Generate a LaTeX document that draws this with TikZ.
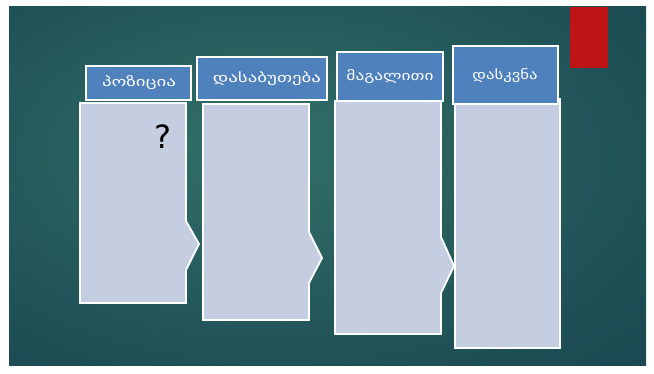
\documentclass[tikz,border=0pt]{standalone}
\usepackage{fontspec}
\newfontfamily\geo{DejaVu Sans}
\newfontfamily\qfont{DejaVu Sans}
\definecolor{bgin}{RGB}{50,112,104}
\definecolor{bgmid}{RGB}{32,82,87}
\definecolor{bgout}{RGB}{18,55,70}
\definecolor{boxfill}{RGB}{197,205,224}
\definecolor{headfill}{RGB}{79,129,189}
\definecolor{redbar}{RGB}{190,20,22}
\pgfdeclareradialshading{slidebg}{\pgfpoint{-6bp}{6bp}}{color(0bp)=(bgin); color(28bp)=(bgmid); color(60bp)=(bgout); color(80bp)=(bgout)}
\tikzset{
  colbox/.style={fill=boxfill, draw=white, line width=1.8pt, line join=miter},
  headbox/.style={fill=headfill, draw=white, line width=1.8pt},
  headtext/.style={text=white, inner sep=0pt, font=\geo\fontsize{13}{15}\selectfont},
}
\begin{document}
\begin{tikzpicture}[x=1pt,y=-1pt]
\useasboundingbox (0,0) rectangle (654,374);
\fill[white] (0,0) rectangle (654,374);
\shade[shading=slidebg] (9,7) rectangle (646,366);
\fill[redbar] (570,7) rectangle (608,68);
% column boxes
\draw[colbox] (80,103) -- (186,103) -- (186,221) -- (199,244) -- (186,270) -- (186,303) -- (80,303) -- cycle;
\draw[colbox] (203,104) -- (309,104) -- (309,232) -- (322,258) -- (309,283) -- (309,320) -- (203,320) -- cycle;
\draw[colbox] (335,101) -- (441,101) -- (441,237) -- (454,266) -- (441,293) -- (441,334) -- (335,334) -- cycle;
\draw[colbox] (455,99) rectangle (560,348);
% headers
\draw[headbox] (86,66) rectangle (191,100);
\draw[headbox] (197,57) rectangle (327,100);
\draw[headbox] (337,52) rectangle (443,101);
\draw[headbox] (453,46) rectangle (558,104);
\node[headtext] (h1) at (139,83) {\resizebox{74pt}{\height}{პოზიცია}};
\node[headtext] (h2) at (267,79) {\resizebox{108pt}{\height}{დასაბუთება}};
\node[headtext] (h3) at (390,77) {\resizebox{87pt}{\height}{მაგალითი}};
\node[headtext] (h4) at (505,76) {\resizebox{65pt}{\height}{დასკვნა}};
\node[inner sep=0pt, font=\qfont\fontsize{32}{34}\selectfont] (q) at (163,137) {?};
\end{tikzpicture}
\end{document}
